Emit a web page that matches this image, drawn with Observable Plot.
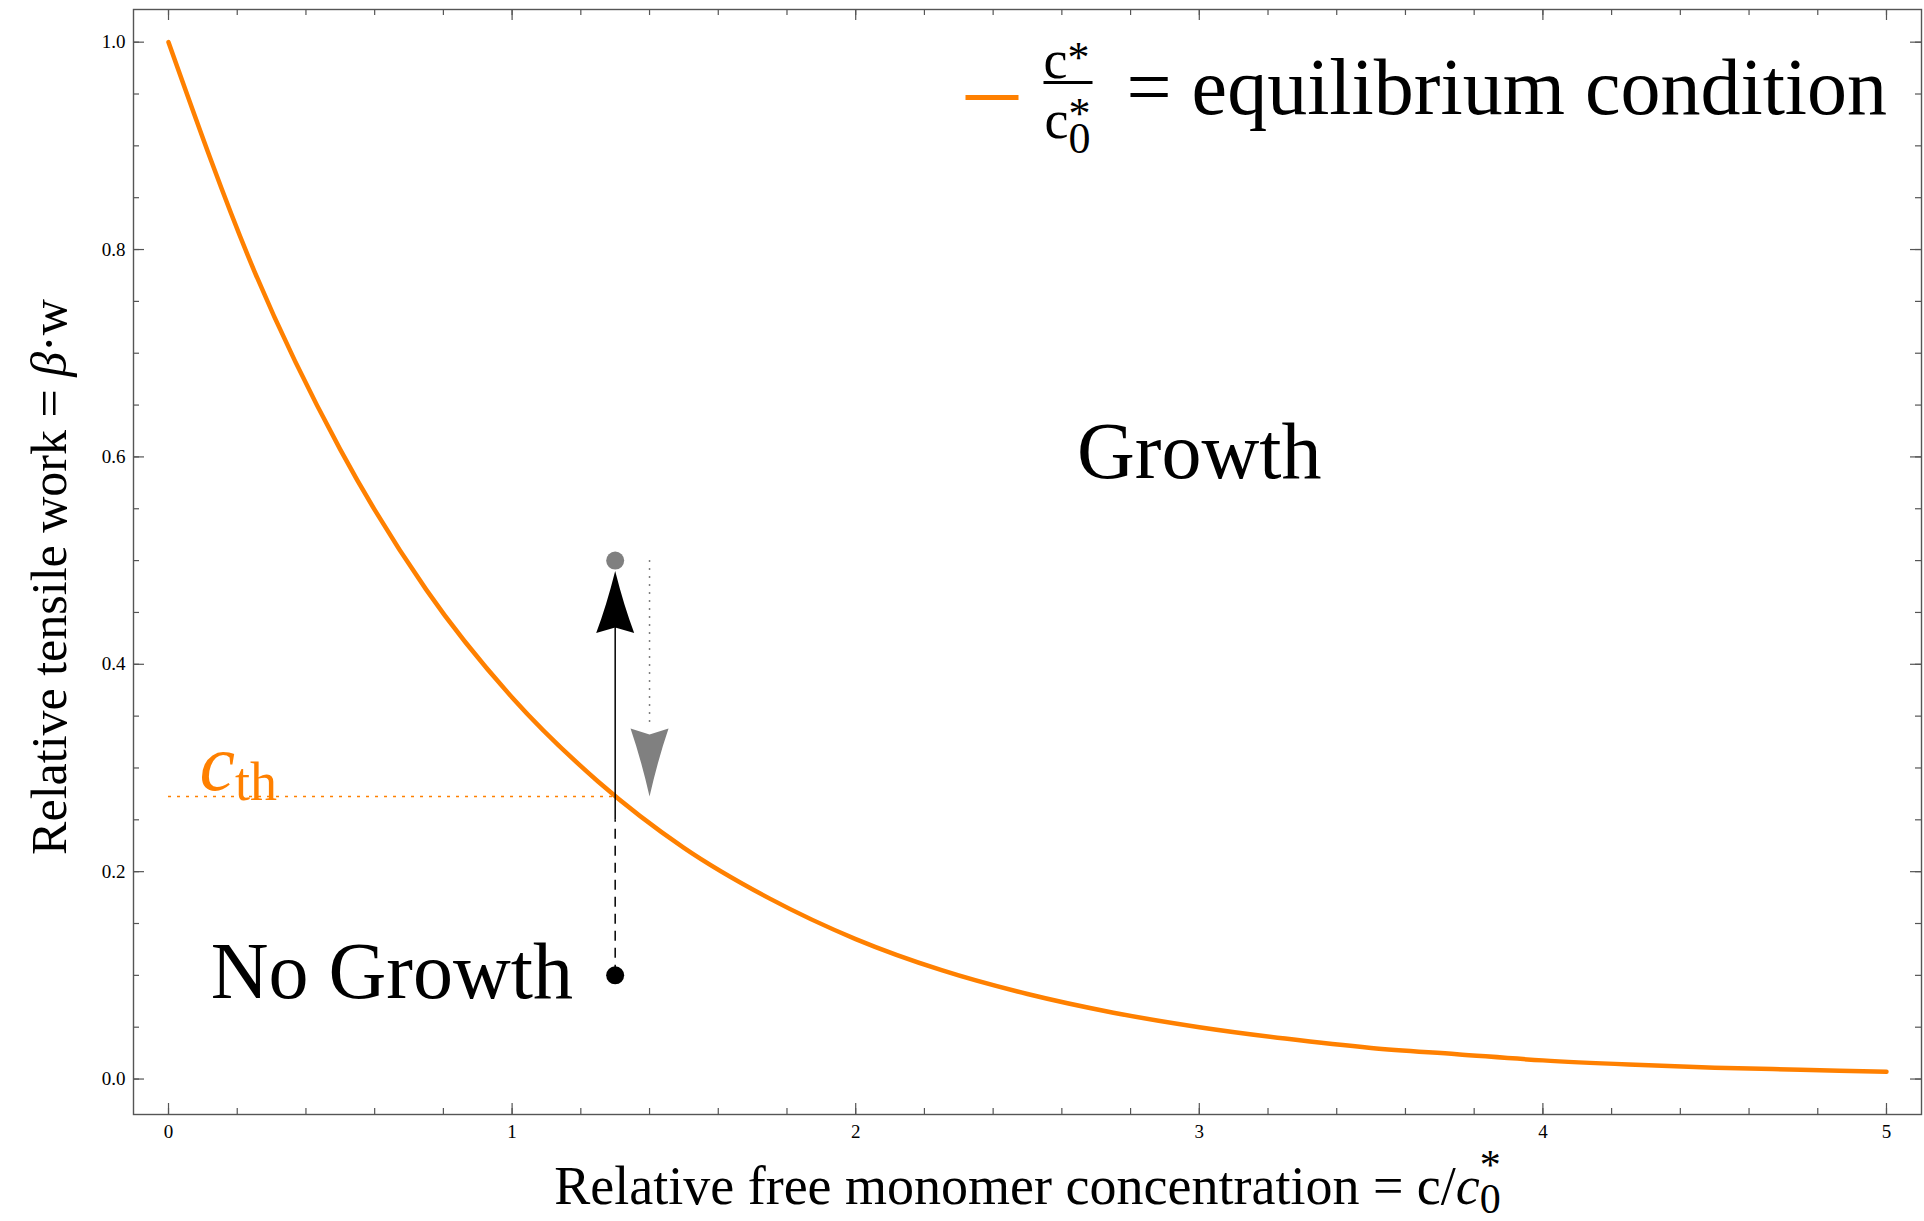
<!DOCTYPE html>
<html><head><meta charset="utf-8">
<script src="https://cdn.jsdelivr.net/npm/d3@7"></script>
<script src="https://cdn.jsdelivr.net/npm/@observablehq/plot@0.6"></script>
<style>html,body{margin:0;padding:0;background:#fff;} svg{display:block}</style>
</head><body><div id="chart"></div>
<script>
// ---- data ----
const concentration = [0, 0.25, 0.5, 0.75, 1, 1.25, 1.5, 1.75, 2, 2.25, 2.5, 2.75, 3, 3.25, 3.5, 3.75, 4, 4.25, 4.5, 4.75, 5];
const tensileWork   = [1.000, 0.779, 0.607, 0.472, 0.368, 0.287, 0.223, 0.174, 0.135, 0.105, 0.082, 0.064, 0.050, 0.039, 0.030, 0.024, 0.018, 0.014, 0.011, 0.009, 0.007];
const xTickLabels = [0, 1, 2, 3, 4, 5];
const yTickLabels = [0, 0.2, 0.4, 0.6, 0.8, 1.0];
const xMinorTicks = d3.range(0, 5.001, 0.2);
const yMinorTicks = d3.range(0, 1.001, 0.05);
const stateC = [1.3, 1.3];          // start (no growth) and end (growth) states
const stateW = [0.1, 0.5];
const stateColor = ["black", "grey"];
const thresholdW = [0.2725];        // c_th level on the curve at c = 1.3
const relaxC = [1.4];               // grey relaxation arrow
const regionLabels = ["Growth", "No Growth"];
const regionC = [3.0, 0.65];
const regionW = [0.58, 0.078];

// ---- layout / style ----
const W = 1924, H = 1221;
const mL = 133, mR = 3, mT = 9, mB = 107;
const plotW = W - mL - mR, plotH = H - mT - mB;
const orange = "#ff8000";
const grey = "#808080";
const frameCol = "#555";
const serif = "'Liberation Serif', 'Times New Roman', serif";

const curveRows = concentration.map((c, i) => ({c, w: tensileWork[i]}));
const stateRows = stateC.map((c, i) => ({c, w: stateW[i], col: stateColor[i]}));
const regionRows = regionLabels.map((t, i) => ({t, c: regionC[i], w: regionW[i]}));

const notched = {
  draw(ctx, l) {
    const w = 19;
    ctx.moveTo(0, -l);
    ctx.quadraticCurveTo(w * 0.45, -l * 0.45, w, 0);
    ctx.lineTo(0, -l * 0.09);
    ctx.lineTo(-w, 0);
    ctx.quadraticCurveTo(-w * 0.45, -l * 0.45, 0, -l);
    ctx.closePath();
  }
};
const segment = { draw(ctx, l) { ctx.moveTo(0, 0); ctx.lineTo(0, -l); } };

const chart = Plot.plot({
  width: W, height: H,
  marginLeft: mL, marginRight: mR, marginTop: mT, marginBottom: mB,
  style: {fontFamily: serif, background: "white", color: "black"},
  x: {domain: [-0.1019, 5.1019]},
  y: {domain: [-0.0342, 1.0315]},
  marks: [
    // frame ticks (inward, all four sides)
    Plot.tickX(xTickLabels, {x: d => d, insetTop: plotH - 11, stroke: frameCol, strokeWidth: 1.2}),
    Plot.tickX(xMinorTicks, {x: d => d, insetTop: plotH - 6, stroke: frameCol, strokeWidth: 1.2}),
    Plot.tickX(xTickLabels, {x: d => d, insetBottom: plotH - 11, stroke: frameCol, strokeWidth: 1.2}),
    Plot.tickX(xMinorTicks, {x: d => d, insetBottom: plotH - 6, stroke: frameCol, strokeWidth: 1.2}),
    Plot.tickY(yTickLabels, {y: d => d, insetRight: plotW - 11, stroke: frameCol, strokeWidth: 1.2}),
    Plot.tickY(yMinorTicks, {y: d => d, insetRight: plotW - 6, stroke: frameCol, strokeWidth: 1.2}),
    Plot.tickY(yTickLabels, {y: d => d, insetLeft: plotW - 11, stroke: frameCol, strokeWidth: 1.2}),
    Plot.tickY(yMinorTicks, {y: d => d, insetLeft: plotW - 6, stroke: frameCol, strokeWidth: 1.2}),
    Plot.frame({stroke: frameCol, strokeWidth: 1.4}),
    Plot.axisX({ticks: xTickLabels, tickSize: 0, tickPadding: 10, fontSize: 19, label: null, tickFormat: d3.format("d")}),
    Plot.axisY({ticks: yTickLabels, tickSize: 0, tickPadding: 8, fontSize: 19, label: null, tickFormat: d3.format(".1f")}),

    // threshold dotted line
    Plot.ruleY(thresholdW, {x1: 0, x2: stateC[0], stroke: orange, strokeWidth: 1.5, strokeDasharray: "3,6"}),

    // equilibrium curve
    Plot.line(curveRows, {x: "c", y: "w", stroke: orange, strokeWidth: 4.5, curve: "monotone-x"}),

    // black growth arrow: dashed below the curve, solid above
    Plot.ruleX([stateC[0]], {y1: stateW[0], y2: 0.25, stroke: "black", strokeWidth: 1.5, strokeDasharray: "10,7"}),
    Plot.ruleX([stateC[0]], {y1: 0.25, y2: 0.45, stroke: "black", strokeWidth: 1.5}),
    Plot.vector([stateC[0]], {x: d => d, y: () => 0.49, length: 62, rotate: 0, anchor: "end", shape: notched, fill: "black", stroke: "none"}),

    // grey relaxation arrow
    Plot.ruleX(relaxC, {y1: stateW[1], y2: 0.34, stroke: grey, strokeWidth: 1.5, strokeDasharray: "2,6"}),
    Plot.vector(relaxC, {x: d => d, y: () => thresholdW[0], length: 68, rotate: 180, anchor: "end", shape: notched, fill: grey, stroke: "none"}),

    // states
    Plot.dot(stateRows, {x: "c", y: "w", r: 9, fill: "col", stroke: "none"}),

    // region labels
    Plot.text(regionRows, {x: "c", y: "w", text: "t", fontSize: 80, textAnchor: "middle", lineAnchor: "bottom", fill: "black"}),

    // c_th label
    Plot.text(["CTH"], {x: () => 0.09, y: () => thresholdW[0], dy: -6, text: d => d, fontSize: 80, textAnchor: "start", lineAnchor: "bottom", fill: orange}),

    // axis titles
    Plot.text(["XLABEL"], {frameAnchor: "bottom", dy: 89, text: d => d, fontSize: 54, textAnchor: "middle", lineAnchor: "bottom"}),
    Plot.text(["YLABEL"], {frameAnchor: "left", dx: 49 - mL, dy: 15, rotate: -90, text: d => d, fontSize: 50, textAnchor: "middle", lineAnchor: "middle"}),

    // legend
    Plot.vector([0], {frameAnchor: "top-left", dx: 991.5 - mL, dy: 97 - mT, length: 53, rotate: 90, shape: segment, stroke: orange, strokeWidth: 5, strokeLinecap: "butt"}),
    Plot.text(["LNUM"], {frameAnchor: "top-left", dx: 1066 - mL, dy: 77 - mT, text: d => d, fontSize: 54, textAnchor: "middle", lineAnchor: "bottom"}),
    Plot.vector([0], {frameAnchor: "top-left", dx: 1067.5 - mL, dy: 82 - mT, length: 49, rotate: 90, shape: segment, stroke: "black", strokeWidth: 3, strokeLinecap: "butt"}),
    Plot.text(["LDEN"], {frameAnchor: "top-left", dx: 1067 - mL, dy: 137 - mT, text: d => d, fontSize: 54, textAnchor: "middle", lineAnchor: "bottom"}),
    Plot.text(["= equilibrium condition"], {frameAnchor: "top-left", dx: 1126 - mL, dy: 113 - mT, text: d => d, fontSize: 80, textAnchor: "start", lineAnchor: "bottom"})
  ]
});

// rich text (italics, sub/superscripts)
function rich(match, parts) {
  for (const el of chart.querySelectorAll("text")) {
    if (el.textContent === match) {
      el.textContent = "";
      for (const p of parts) {
        const ts = document.createElementNS("http://www.w3.org/2000/svg", "tspan");
        ts.textContent = p.t;
        if (p.italic) ts.setAttribute("font-style", "italic");
        if (p.size) ts.setAttribute("font-size", p.size);
        if (p.dy != null) ts.setAttribute("dy", p.dy);
        if (p.dx != null) ts.setAttribute("dx", p.dx);
        el.appendChild(ts);
      }
    }
  }
}
rich("CTH", [{t: "c", italic: true}, {t: "th", size: 54, dy: 10}]);
rich("XLABEL", [{t: "Relative free monomer concentration = c/"}, {t: "c", italic: true}, {t: "0", size: 42, dy: 9}, {t: "*", size: 42, dx: -21, dy: -34}]);
rich("YLABEL", [{t: "Relative tensile work = "}, {t: "β", italic: true}, {t: "·w"}]);
rich("LNUM", [{t: "c"}, {t: "*", size: 44, dy: -6}]);
rich("LDEN", [{t: "c"}, {t: "0", size: 44, dy: 15}, {t: "*", size: 44, dx: -22, dy: -25}]);

document.getElementById("chart").appendChild(chart);
</script>
</body></html>
